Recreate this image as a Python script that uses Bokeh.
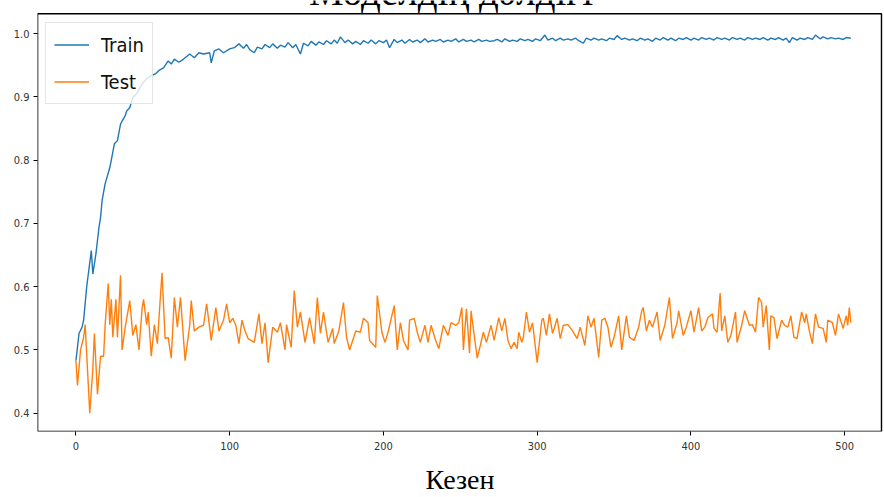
from bokeh.plotting import figure
from bokeh.models import Range1d, FixedTicker, Label, Legend, LegendItem, PrintfTickFormatter, BoxAnnotation
from bokeh.embed import file_html
from bokeh.resources import INLINE

# ---------------- data ----------------
train_epochs = [0, 2, 4, 5, 7, 10, 11, 13, 15, 16, 17, 19, 22, 23, 25, 27, 29, 30, 32, 33,
                35, 37, 40, 43, 46, 49, 52, 54, 57, 60, 62, 64, 67, 70, 74, 77, 80, 83, 87, 88,
                90, 93, 96, 100, 103,
                106, 109, 111, 113, 116, 118, 121, 123, 126, 128, 131, 133, 136, 138, 141, 143, 146, 148, 151, 153,
                156, 158, 161, 163, 166, 168, 170, 172, 175, 177, 180, 182, 185, 187, 190, 192, 195, 197, 200, 202,
                204, 207, 209, 212, 214, 217, 219, 222, 224, 227, 229, 232, 234, 237, 239, 242, 244, 247, 249, 252,
                254, 257, 259, 262, 264, 267, 269, 272, 274, 277, 279, 282, 284, 287, 289, 292, 294, 297, 299, 302,
                305, 307, 310, 312, 315, 317, 320, 322, 325, 327, 330, 332, 335, 337, 340, 342, 345, 347, 350, 352,
                355, 357, 360, 362, 365, 367, 370, 372, 375, 377, 380, 382, 385, 387, 390, 392, 395, 397, 400, 402,
                405, 407, 410, 412, 415, 417, 420, 422, 425, 427, 430, 432, 435, 437, 440, 442, 445, 447, 450, 452,
                455, 457, 460, 462, 464, 466, 469, 471, 474, 476, 479, 481, 484, 486, 489, 491, 494, 496, 499, 501,
                504]
train_acc = [0.483, 0.526, 0.536, 0.547, 0.600, 0.657, 0.620, 0.652, 0.694, 0.709, 0.736, 0.763, 0.788, 0.800, 0.826, 0.831, 0.857, 0.862, 0.870, 0.878,
             0.883, 0.899, 0.907, 0.921, 0.929, 0.934, 0.937, 0.942, 0.946, 0.957, 0.952, 0.960, 0.955, 0.960, 0.968, 0.962, 0.970, 0.968, 0.970, 0.954,
             0.973, 0.976, 0.970, 0.976, 0.978,
             0.984, 0.977, 0.983, 0.975, 0.970, 0.979, 0.976, 0.983, 0.978, 0.984, 0.977, 0.982, 0.979, 0.986, 0.978, 0.983, 0.968, 0.985, 0.981, 0.988,
             0.982, 0.987, 0.983, 0.989, 0.984, 0.990, 0.985, 0.995, 0.986, 0.990, 0.984, 0.988, 0.983, 0.989, 0.985, 0.990, 0.984, 0.989, 0.986, 0.990,
             0.978, 0.991, 0.986, 0.990, 0.985, 0.991, 0.987, 0.990, 0.986, 0.992, 0.987, 0.990, 0.988, 0.991, 0.987, 0.990, 0.988, 0.992, 0.987, 0.991,
             0.988, 0.990, 0.987, 0.991, 0.988, 0.990, 0.988, 0.989, 0.991, 0.987, 0.992, 0.988, 0.990, 0.988, 0.992, 0.989, 0.991, 0.988, 0.992, 0.989,
             0.998, 0.990, 0.993, 0.989, 0.993, 0.990, 0.992, 0.990, 0.993, 0.989, 0.985, 0.993, 0.990, 0.993, 0.990, 0.992, 0.989, 0.993, 0.991, 0.997,
             0.991, 0.993, 0.990, 0.992, 0.989, 0.993, 0.990, 0.992, 0.988, 0.993, 0.990, 0.994, 0.990, 0.993, 0.989, 0.993, 0.991, 0.994, 0.990, 0.993,
             0.990, 0.994, 0.991, 0.993, 0.990, 0.994, 0.991, 0.993, 0.990, 0.994, 0.991, 0.993, 0.990, 0.994, 0.991, 0.993, 0.991, 0.994, 0.990, 0.993,
             0.991, 0.994, 0.990, 0.993, 0.986, 0.994, 0.990, 0.993, 0.991, 0.994, 0.991, 0.998, 0.992, 0.995, 0.992, 0.994, 0.992, 0.993, 0.991, 0.994,
             0.993]

test_epochs = [0, 1, 3, 5, 6, 9, 11, 12, 14, 16, 18, 19, 21, 22, 23, 24, 26, 27, 29, 30,
               32, 35, 37, 39, 41, 43, 44, 46, 47, 49, 51, 53, 54, 56, 58, 60, 62, 64, 66, 68,
               69, 71, 74, 75, 77, 80, 83, 85, 88, 91, 93, 96, 98, 100, 102, 104, 106, 108, 110, 112,
               116, 119, 121, 123, 125, 128, 131, 133, 136, 137, 140, 142, 144, 146, 149, 152, 155, 157, 159, 161,
               164, 167, 168, 171, 174, 176, 178, 182, 185, 187, 190, 191, 195, 196, 199, 201, 203, 207, 209, 211,
               213, 216, 217, 220, 222, 224, 227, 229, 231, 234, 236, 239, 242, 244, 247, 249, 251, 252, 254, 256,
               257, 258, 261, 263, 265, 267, 270, 272, 275, 277, 279, 281, 283, 285, 287, 288, 290, 291, 293, 295,
               297, 300, 303, 304, 306, 308, 310, 313, 315, 317, 320, 323, 326, 328, 331, 333, 335, 337, 340, 342,
               344, 346, 348, 350, 353, 355, 358, 360, 363, 366, 368, 369, 371, 373, 375, 378, 380, 383, 386, 388,
               391, 392, 395, 397, 400, 402, 405, 407, 409, 411, 414, 415, 417, 419, 420, 422, 424, 426, 429, 430,
               433, 435, 438, 440, 442, 444, 446, 447, 449, 451, 452, 454, 456, 459, 461, 463, 465, 467, 469, 472,
               474, 475, 477, 479, 481, 483, 486, 488, 489, 492, 494, 496, 499, 501, 502, 503, 504]
test_acc = [0.483, 0.444, 0.500, 0.520, 0.540, 0.400, 0.470, 0.526, 0.430, 0.490, 0.490, 0.540, 0.605, 0.540, 0.580, 0.520, 0.580, 0.520, 0.618, 0.500,
            0.535, 0.578, 0.523, 0.540, 0.500, 0.565, 0.580, 0.540, 0.560, 0.490, 0.540, 0.510, 0.550, 0.622, 0.518, 0.520, 0.487, 0.583, 0.536, 0.583,
            0.550, 0.483, 0.539, 0.578, 0.530, 0.536, 0.539, 0.573, 0.515, 0.567, 0.530, 0.547, 0.573, 0.543, 0.550, 0.539, 0.510, 0.547, 0.530, 0.518,
            0.512, 0.557, 0.510, 0.543, 0.480, 0.536, 0.528, 0.543, 0.500, 0.540, 0.504, 0.594, 0.536, 0.560, 0.512, 0.551, 0.510, 0.583, 0.526, 0.560,
            0.512, 0.534, 0.510, 0.530, 0.575, 0.520, 0.500, 0.530, 0.528, 0.550, 0.543, 0.515, 0.504, 0.586, 0.528, 0.512, 0.528, 0.570, 0.500, 0.543,
            0.515, 0.500, 0.547, 0.550, 0.528, 0.512, 0.539, 0.512, 0.539, 0.515, 0.502, 0.539, 0.523, 0.543, 0.539, 0.543, 0.567, 0.500, 0.565, 0.495,
            0.562, 0.543, 0.487, 0.507, 0.528, 0.512, 0.539, 0.515, 0.551, 0.530, 0.550, 0.515, 0.502, 0.512, 0.502, 0.528, 0.512, 0.520, 0.560, 0.528,
            0.543, 0.480, 0.547, 0.550, 0.523, 0.557, 0.526, 0.550, 0.518, 0.539, 0.540, 0.530, 0.518, 0.536, 0.507, 0.554, 0.536, 0.550, 0.488, 0.547,
            0.550, 0.536, 0.504, 0.520, 0.554, 0.500, 0.554, 0.520, 0.515, 0.536, 0.562, 0.567, 0.530, 0.547, 0.536, 0.560, 0.515, 0.539, 0.583, 0.518,
            0.543, 0.562, 0.523, 0.536, 0.562, 0.528, 0.567, 0.530, 0.536, 0.551, 0.557, 0.534, 0.528, 0.590, 0.530, 0.554, 0.512, 0.523, 0.560, 0.512,
            0.539, 0.562, 0.539, 0.540, 0.528, 0.583, 0.575, 0.536, 0.570, 0.500, 0.554, 0.551, 0.518, 0.547, 0.539, 0.536, 0.554, 0.520, 0.518, 0.560,
            0.543, 0.557, 0.530, 0.510, 0.557, 0.536, 0.534, 0.512, 0.547, 0.543, 0.523, 0.557, 0.534, 0.554, 0.539, 0.567, 0.543]

x_ticks = [0, 100, 200, 300, 400, 500]
y_ticks = [0.4, 0.5, 0.6, 0.7, 0.8, 0.9, 1.0]
series_names = ["Train", "Test"]
series_colors = ["#1f77b4", "#ff7f0e"]
title_text = "Моделдің дәлдігі"
x_label = "Кезен"

# axes box (matplotlib style) and the extra head room where the cut title sits
x_lo, x_hi = -25, 524
y_lo, y_hi = 0.371, 1.0316
y_canvas_top = 1.0526

# ---------------- figure ----------------
p = figure(width=884, height=497, output_backend="svg", toolbar_location=None,
           x_range=Range1d(x_lo, x_hi + 0.6), y_range=Range1d(y_lo, y_canvas_top),
           min_border_left=37, min_border_right=2, min_border_top=0, min_border_bottom=65)
p.background_fill_color = "white"
p.border_fill_color = "white"
p.xgrid.visible = False
p.ygrid.visible = False
p.outline_line_color = None

tick_font = "'DejaVu Sans Condensed', 'DejaVu Sans'"
for ax in (p.xaxis[0], p.yaxis[0]):
    ax.axis_line_color = None
    ax.major_tick_line_color = "black"
    ax.major_tick_line_width = 1
    ax.major_tick_out = 4
    ax.major_tick_in = 0
    ax.minor_tick_line_color = None
    ax.major_label_text_font = tick_font
    ax.major_label_text_font_size = "11px"
    ax.major_label_text_color = "#333333"

p.xaxis[0].ticker = FixedTicker(ticks=x_ticks)
p.yaxis[0].ticker = FixedTicker(ticks=y_ticks)
p.yaxis[0].formatter = PrintfTickFormatter(format="%.1f")
p.xaxis[0].major_label_standoff = 6
p.yaxis[0].major_label_standoff = 4

p.xaxis[0].axis_label = x_label
p.xaxis[0].axis_label_text_font = "Liberation Serif"
p.xaxis[0].axis_label_text_font_style = "normal"
p.xaxis[0].axis_label_text_font_size = "28px"
p.xaxis[0].axis_label_text_color = "black"
p.xaxis[0].axis_label_standoff = 11

# axes box
box = BoxAnnotation(left=x_lo, right=x_hi, bottom=y_lo, top=y_hi,
                    fill_alpha=0, line_color="black", line_alpha=1.0, line_width=1.6)
p.add_layout(box)

r_train = p.line(train_epochs, train_acc, line_color=series_colors[0], line_width=1.4)
r_test = p.line(test_epochs, test_acc, line_color=series_colors[1], line_width=1.4)

legend = Legend(items=[LegendItem(label=series_names[0], renderers=[r_train]),
                       LegendItem(label=series_names[1], renderers=[r_test])],
                location=(8, 327), padding=8, spacing=10,
                glyph_width=35, glyph_height=27, label_height=27, label_standoff=12,
                label_text_font=tick_font, label_text_font_size="20px",
                label_text_color="#111111",
                border_line_color="#cccccc", border_line_width=1,
                background_fill_color="white", background_fill_alpha=0.8)
p.add_layout(legend, "center")

# title partly cut off at the top edge, as in the reference
title = Label(x=244, y=1.0479, x_units="data", y_units="data", text=title_text,
              y_offset=12,
              text_font="Liberation Serif", text_font_size="39px", text_color="black",
              text_align="center", text_baseline="alphabetic")
p.add_layout(title)

open("out.html", "w").write(file_html(p, INLINE))
